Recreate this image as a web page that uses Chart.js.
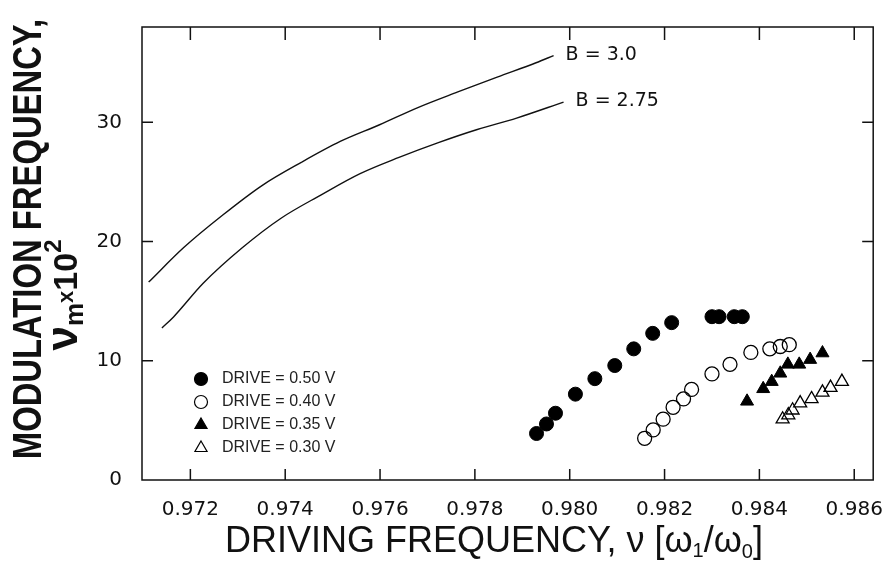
<!DOCTYPE html>
<html>
<head>
<meta charset="utf-8">
<script src="https://cdn.jsdelivr.net/npm/chart.js@4.4.1/dist/chart.umd.min.js"></script>
<style>
    html, body { margin: 0; padding: 0; background: #fff; }
    #wrap { width: 882px; height: 564px; }
</style>
</head>
<body>
<div id="wrap"><canvas id="chart1" width="882" height="564"></canvas></div>
<script>
/*===================================================================================*/
/*  data
/*===================================================================================*/
var xTicks = [0.972, 0.974, 0.976, 0.978, 0.980, 0.982, 0.984, 0.986];
var yTicks = [0, 10, 20, 30];

// theory curves
var curveB300X = [0.97112, 0.97186, 0.97269, 0.97351, 0.97434, 0.97516, 0.97599, 0.97681, 0.97764, 0.97847, 0.97929, 0.97966];
var curveB300Y = [16.6, 19.5, 22.25, 24.7, 26.65, 28.4, 29.8, 31.26, 32.55, 33.8, 35.0, 35.6];
var curveB275X = [0.97140, 0.97165, 0.97227, 0.97310, 0.97392, 0.97475, 0.97558, 0.97640, 0.97723, 0.97805, 0.97888, 0.97987];
var curveB275Y = [12.75, 13.7, 16.5, 19.5, 21.98, 23.9, 25.7, 27.06, 28.3, 29.4, 30.36, 31.7];
var curveLabels = ['B = 3.0', 'B = 2.75'];

// measured points
var drive050X = [0.97930, 0.97951, 0.97970, 0.98012, 0.98053, 0.98095, 0.98135, 0.98175, 0.98215, 0.98300, 0.98315, 0.98347, 0.98364];
var drive050Y = [3.9, 4.7, 5.6, 7.2, 8.5, 9.6, 11.0, 12.3, 13.2, 13.7, 13.7, 13.7, 13.7];
var drive040X = [0.98158, 0.98176, 0.98197, 0.98218, 0.98240, 0.98257, 0.98300, 0.98338, 0.98382, 0.98422, 0.98444, 0.98463];
var drive040Y = [3.5, 4.2, 5.1, 6.1, 6.8, 7.6, 8.9, 9.7, 10.7, 11.0, 11.2, 11.35];
var drive035X = [0.98374, 0.98408, 0.98426, 0.98444, 0.98460, 0.98484, 0.98507, 0.98533];
var drive035Y = [6.6, 7.65, 8.25, 8.95, 9.7, 9.7, 10.1, 10.65];
var drive030X = [0.98449, 0.98461, 0.98470, 0.98486, 0.98510, 0.98533, 0.98550, 0.98574];
var drive030Y = [5.1, 5.45, 5.85, 6.45, 6.8, 7.35, 7.75, 8.25];
var driveLabels = ['DRIVE = 0.50 V', 'DRIVE = 0.40 V', 'DRIVE = 0.35 V', 'DRIVE = 0.30 V'];

function pts(xs, ys) {
    return xs.map(function(x, i) { return { x: x, y: ys[i] }; });
}

var ink = '#111';

// draws a row of text pieces (sub / superscripts) centred on 0,0
function drawRuns(ctx, runs, family, weight) {
    var total = 0;
    runs.forEach(function(r) {
        ctx.font = weight + ' ' + r.size + 'px ' + family;
        r.w = ctx.measureText(r.t).width;
        total += r.w;
    });
    var x = -total / 2;
    runs.forEach(function(r) {
        ctx.font = weight + ' ' + r.size + 'px ' + family;
        ctx.fillText(r.t, x, r.dy || 0);
        x += r.w;
    });
}

/*===================================================================================*/
/*  frame, inward ticks, titles, curve labels, legend
/*===================================================================================*/
var decorPlugin = {
    id: 'decor',
    afterDraw: function(chart) {
        var ctx = chart.ctx;
        var a = chart.chartArea;
        var xs = chart.scales.x, ys = chart.scales.y;
        ctx.save();
        ctx.strokeStyle = ink;
        ctx.fillStyle = ink;
        ctx.lineWidth = 1.5;

        // frame
        ctx.strokeRect(a.left, a.top, a.right - a.left, a.bottom - a.top);

        // ticks pointing in
        ctx.beginPath();
        xTicks.forEach(function(v) {
            var px = xs.getPixelForValue(v);
            ctx.moveTo(px, a.bottom); ctx.lineTo(px, a.bottom - 11);
            ctx.moveTo(px, a.top); ctx.lineTo(px, a.top + 13);
        });
        yTicks.forEach(function(v) {
            if (v === 0) return;
            var py = ys.getPixelForValue(v);
            ctx.moveTo(a.left, py); ctx.lineTo(a.left + 11, py);
            ctx.moveTo(a.right, py); ctx.lineTo(a.right - 11, py);
        });
        ctx.stroke();

        // curve labels at the end of each curve
        ctx.font = '19px "DejaVu Sans"';
        ctx.textBaseline = 'middle';
        ctx.textAlign = 'left';
        var ends = [[curveB300X, curveB300Y], [curveB275X, curveB275Y]];
        ends.forEach(function(c, i) {
            var n = c[0].length - 1;
            var px = xs.getPixelForValue(c[0][n]);
            var py = ys.getPixelForValue(c[1][n]);
            ctx.fillText(curveLabels[i], px + 12, py - 1);
        });

        // legend inside the plot
        var styles = [
            { style: 'circle', fill: '#000', r: 6.5 },
            { style: 'circle', fill: 'rgba(0,0,0,0)', r: 6.5 },
            { style: 'triangle', fill: '#000', r: 7 },
            { style: 'triangle', fill: 'rgba(0,0,0,0)', r: 7 }
        ];
        ctx.font = '16px "Liberation Sans"';
        driveLabels.forEach(function(lab, i) {
            var ly = 379 + i * 23;
            ctx.fillStyle = styles[i].fill;
            ctx.strokeStyle = '#000';
            ctx.lineWidth = 1.2;
            Chart.helpers.drawPoint(ctx, { pointStyle: styles[i].style, radius: styles[i].r, borderWidth: 1.2, rotation: 0 }, 201, ly);
            ctx.fillStyle = '#222';
            ctx.fillText(lab, 222, ly);
        });

        // y title, two rotated lines
        ctx.fillStyle = ink;
        ctx.textAlign = 'left';
        ctx.textBaseline = 'alphabetic';
        ctx.save();
        ctx.translate(41, 239);
        ctx.rotate(-Math.PI / 2);
        ctx.scale(0.82, 1);
        drawRuns(ctx, [{ t: 'MODULATION FREQUENCY,', size: 40 }], '"Liberation Sans"', 'bold');
        ctx.restore();

        ctx.save();
        ctx.translate(77, 295);
        ctx.rotate(-Math.PI / 2);
        drawRuns(ctx, [
            { t: 'ν', size: 44 },
            { t: 'm', size: 26, dy: 6 },
            { t: 'x', size: 22, dy: -4 },
            { t: '10', size: 34 },
            { t: '2', size: 24, dy: -16 }
        ], '"Liberation Sans"', 'bold');
        ctx.restore();

        // x title
        ctx.save();
        ctx.translate(494, 552);
        drawRuns(ctx, [
            { t: 'DRIVING FREQUENCY, ν [ω', size: 36 },
            { t: '1', size: 20, dy: 5 },
            { t: '/ω', size: 36 },
            { t: '0', size: 20, dy: 6 },
            { t: ']', size: 36 }
        ], '"Liberation Sans"', 'normal');
        ctx.restore();

        ctx.restore();
    }
};

/*===================================================================================*/
/*  chart
/*===================================================================================*/
var tickFont = { family: '"DejaVu Sans"', size: 20 };

var ctx = document.getElementById('chart1');
var myChart = new Chart(ctx, {
    type: 'scatter',
    data: {
        datasets: [
            {
                label: 'B = 3.0', type: 'line', data: pts(curveB300X, curveB300Y),
                borderColor: ink, borderWidth: 1.4, pointRadius: 0, fill: false,
                cubicInterpolationMode: 'monotone'
            },
            {
                label: 'B = 2.75', type: 'line', data: pts(curveB275X, curveB275Y),
                borderColor: ink, borderWidth: 1.4, pointRadius: 0, fill: false,
                cubicInterpolationMode: 'monotone'
            },
            {
                label: driveLabels[0], data: pts(drive050X, drive050Y),
                pointStyle: 'circle', pointRadius: 7, backgroundColor: '#000', borderColor: '#000', borderWidth: 1
            },
            {
                label: driveLabels[1], data: pts(drive040X, drive040Y),
                pointStyle: 'circle', pointRadius: 7, backgroundColor: 'rgba(0,0,0,0)', borderColor: '#000', borderWidth: 1.3
            },
            {
                label: driveLabels[2], data: pts(drive035X, drive035Y),
                pointStyle: 'triangle', pointRadius: 7.5, backgroundColor: '#000', borderColor: '#000', borderWidth: 1
            },
            {
                label: driveLabels[3], data: pts(drive030X, drive030Y),
                pointStyle: 'triangle', pointRadius: 7.5, backgroundColor: 'rgba(0,0,0,0)', borderColor: '#000', borderWidth: 1.3
            }
        ]
    },
    options: {
        responsive: false,
        animation: false,
        devicePixelRatio: 1,
        layout: { padding: { top: 27, right: 3, left: 0, bottom: 0 } },
        plugins: {
            legend: { display: false },
            tooltip: { enabled: false }
        },
        scales: {
            x: {
                type: 'linear',
                min: 0.97098,
                max: 0.98640,
                grid: { display: false },
                border: { display: false },
                afterBuildTicks: function(s) { s.ticks = xTicks.map(function(v) { return { value: v }; }); },
                afterFit: function(s) { s.height = 84; s.paddingLeft = 0; s.paddingRight = 0; },
                ticks: {
                    font: tickFont, color: ink, padding: 10, maxRotation: 0,
                    callback: function(v) { return v.toFixed(3); }
                }
            },
            y: {
                min: 0,
                max: 38.0,
                grid: { display: false },
                border: { display: false },
                afterBuildTicks: function(s) { s.ticks = yTicks.map(function(v) { return { value: v }; }); },
                afterFit: function(s) { s.width = 142; s.paddingTop = 0; s.paddingBottom = 0; },
                ticks: { font: tickFont, color: ink, padding: 12 }
            }
        }
    },
    plugins: [decorPlugin]
});
</script>
</body>
</html>
